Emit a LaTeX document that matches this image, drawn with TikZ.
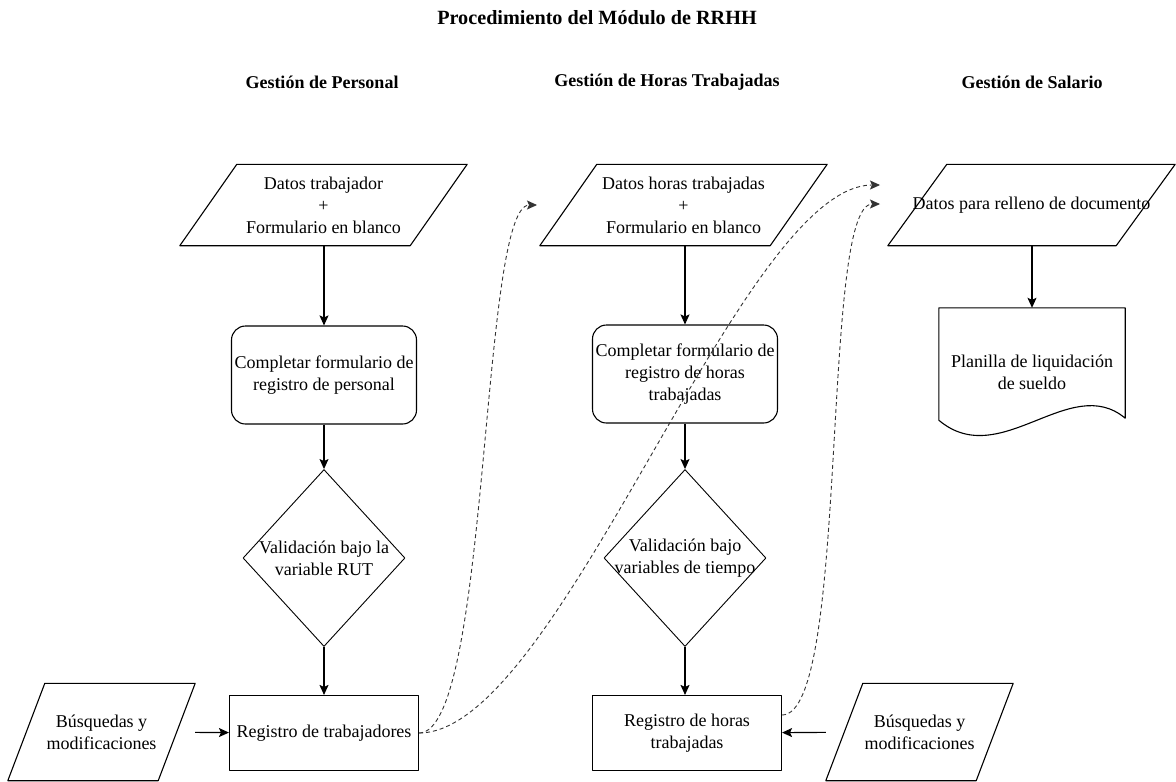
\documentclass[tikz,border=0pt]{standalone}
\usepackage{fontspec}
\setmainfont{Liberation Serif}
\usetikzlibrary{shapes.geometric,arrows.meta}

% paralelogramo sobre el rectangulo de un nodo: #1 nodo, #2 desplazamiento
\newcommand{\paralelo}[2]{\draw[line width=1.1pt] ([xshift=#2]#1.north west) -- (#1.north east)
  -- ([xshift=-#2]#1.south east) -- (#1.south west) -- cycle;}

\begin{document}
\begin{tikzpicture}[x=1pt, y=-1pt, line join=round, >={Stealth[length=10pt,width=9pt,inset=2pt]},
  font=\fontsize{18}{22}\selectfont,
  datos/.style={minimum width=287, minimum height=81, inner sep=2pt, align=center},
  busq/.style={datos, minimum width=187, minimum height=97},
  proc/.style={draw, line width=1.1pt, rounded corners=14pt, minimum width=185, minimum height=98, inner sep=2pt, align=center},
  valid/.style={draw, line width=0.9pt, diamond, minimum width=162, minimum height=177, inner sep=0pt},
  reg/.style={draw, line width=1.1pt, minimum width=189, minimum height=75, align=center},
  encabezado/.style={font=\fontsize{18}{22}\selectfont\bfseries},
  flecha/.style={->, line width=1.1pt},
  punteada/.style={->, line width=0.9pt, dash pattern=on 4pt off 3pt, black!80}]
\useasboundingbox (0,0) rectangle (1176,782);

% titulos
\node[encabezado, font=\fontsize{20.2}{24}\selectfont\bfseries] (titulo) at (597,18) {Procedimiento del Módulo de RRHH};
\node[encabezado] (hPersonal) at (322,82) {Gestión de Personal};
\node[encabezado] (hHoras) at (667,82) {Gestión de Horas Trabajadas};
\node[encabezado] (hSalario) at (1032,82) {Gestión de Salario};

% gestion de personal
\node[datos] (dat1) at (323.5,205) {Datos trabajador\\+\\Formulario en blanco};
\node[proc] (comp1) at (324,375) {Completar formulario de\\registro de personal};
\node[valid, label={[align=center, name=val1t]center:Validación bajo la\\variable RUT}] (val1) at (324,558) {};
\node[reg] (reg1) at (324,733) {Registro de trabajadores};
\node[busq] (busq1) at (101.5,732) {Búsquedas y\\modificaciones};

% gestion de horas trabajadas
\node[datos] (dat2) at (683.5,205) {Datos horas trabajadas\\+\\Formulario en blanco};
\node[proc] (comp2) at (685,374) {Completar formulario de\\registro de horas\\trabajadas};
\node[valid, label={[align=center, name=val2t]center:Validación bajo\\variables de tiempo}] (val2) at (685,558) {};
\node[reg] (reg2) at (687,733) {Registro de horas\\trabajadas};
\node[busq] (busq2) at (919.5,732) {Búsquedas y\\modificaciones};

% gestion de salario
\node[datos] (dat3) at (1031.5,205) {Datos para relleno de documento};
\node[minimum width=186, minimum height=128, align=center] (planilla) at (1032,372) {Planilla de liquidación\\de sueldo};

% contornos
\paralelo{dat1}{57}
\paralelo{dat2}{57}
\paralelo{dat3}{59}
\paralelo{busq1}{37}
\paralelo{busq2}{37}
\draw[line width=1.1pt] (planilla.north west) -- (planilla.north east) -- ([yshift=18pt]planilla.south east)
  .. controls (1070,372) and (1000,472) .. ([yshift=16pt]planilla.south west) -- cycle;

% flechas
\draw[flecha] (dat1.south -| comp1) -- (comp1);
\draw[flecha] (comp1) -- (val1);
\draw[flecha] (val1) -- (reg1);
\draw[flecha] (busq1) -- (reg1);
\draw[flecha] (dat2.south -| comp2) -- (comp2);
\draw[flecha] (comp2) -- (val2);
\draw[flecha] (val2) -- (reg2.north -| val2.south);
\draw[flecha] (busq2) -- (reg2);
\draw[flecha] (dat3.south -| planilla) -- (planilla);

% conexiones punteadas
\coordinate (in1) at (537,205);
\coordinate (in2) at (880,185);
\coordinate (in3) at (880,204);
\draw[punteada] (reg1.east) .. controls (490,733) and (480,205) .. (in1);
\draw[punteada] (reg1.east) .. controls (560,733) and (740,185) .. (in2);
\draw[punteada] ([yshift=18pt]reg2.east) .. controls (850,715) and (820,204) .. (in3);
\end{tikzpicture}
\end{document}
